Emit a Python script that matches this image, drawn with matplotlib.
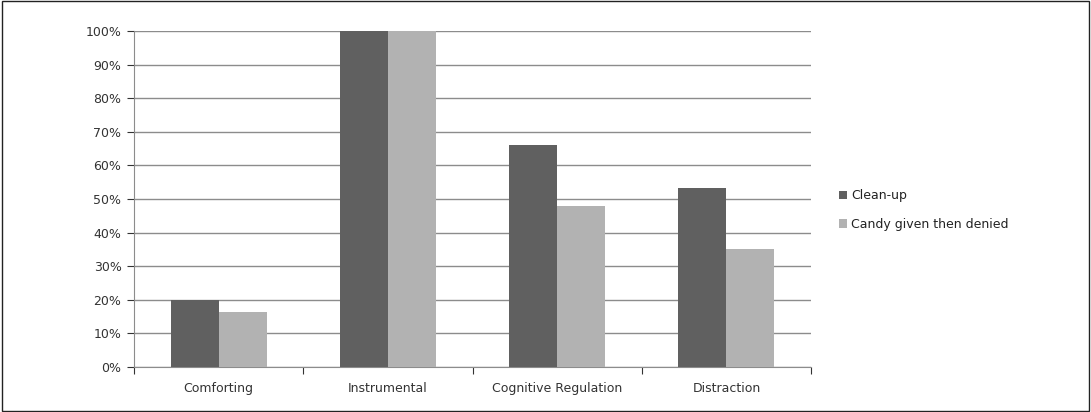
import matplotlib
matplotlib.use('Agg')
import matplotlib.pyplot as plt
import numpy as np
from matplotlib.patches import Rectangle

categories = ['Comforting', 'Instrumental', 'Cognitive Regulation', 'Distraction']
clean_up = [0.20, 1.00, 0.66, 0.533]
candy = [0.164, 1.00, 0.48, 0.35]
series_names = ['Clean-up', 'Candy given then denied']
colors = ['#606060', '#b2b2b2']

fig = plt.figure(figsize=(10.91, 4.12), dpi=100)
ax = fig.add_axes([0.1228, 0.1092, 0.6206, 0.8156])

x = np.arange(len(categories))
w = 0.284
bars1 = ax.bar(x - w / 2, clean_up, w, color=colors[0], label=series_names[0], zorder=3)
bars2 = ax.bar(x + w / 2, candy, w, color=colors[1], label=series_names[1], zorder=3)

ax.set_xlim(-0.5, len(categories) - 0.5)
ax.set_ylim(0, 1.0)
ax.set_yticks(np.arange(0, 1.01, 0.1))
ax.set_yticklabels([f'{int(round(v * 100))}%' for v in np.arange(0, 1.01, 0.1)])
ax.yaxis.grid(True, color='#8c8c8c', linewidth=1, zorder=0)

# category labels between boundary ticks
ax.set_xticks(np.arange(-0.5, len(categories), 1.0))
ax.set_xticklabels([])
ax.set_xticks(x, minor=True)
ax.set_xticklabels(categories, minor=True)
ax.tick_params(axis='x', which='minor', length=0, pad=11)
ax.tick_params(axis='x', which='major', length=5, color='#8c8c8c', direction='out')
ax.tick_params(axis='y', length=5, color='#8c8c8c', pad=4)
ax.tick_params(labelsize=9, colors='#333333', which='both')

for s in ['top', 'right']:
    ax.spines[s].set_visible(False)
for s in ['left', 'bottom']:
    ax.spines[s].set_color('#8c8c8c')

ax.legend(loc='center left', bbox_to_anchor=(1.025, 0.467), frameon=False,
          fontsize=9, handlelength=0.65, handleheight=0.65, handletextpad=0.3,
          labelspacing=1.25, labelcolor='#222222')

# outer border
fig.patches.append(Rectangle((0.0015, 0.003), 0.997, 0.994, transform=fig.transFigure,
                             fill=False, edgecolor='#222222', linewidth=1))

plt.savefig('out.png', dpi=100)
